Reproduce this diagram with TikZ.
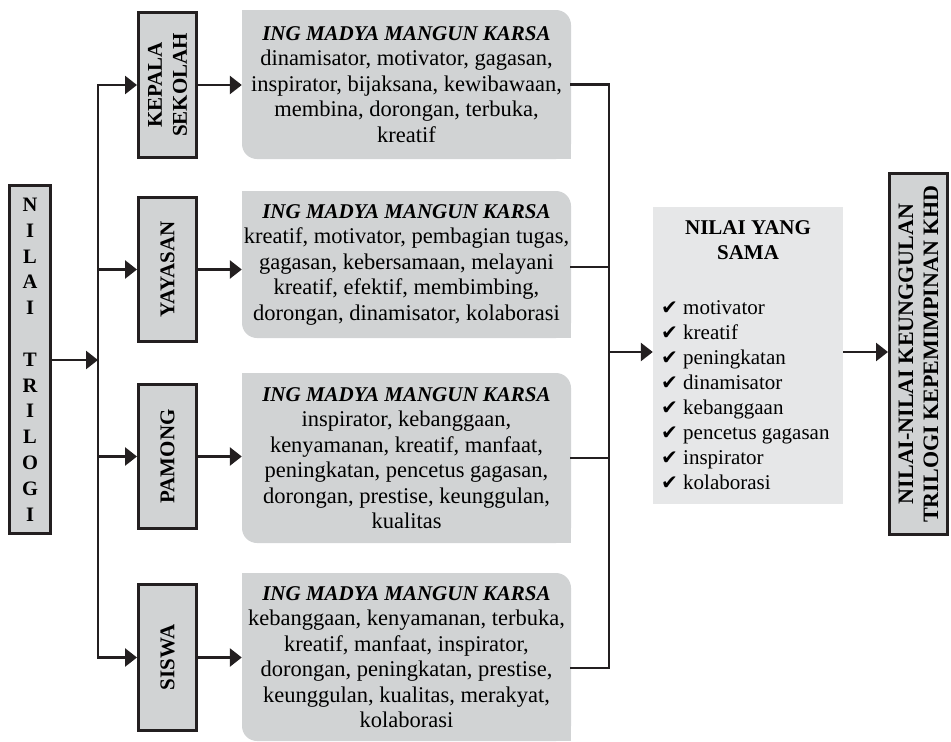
\documentclass[tikz,border=0pt]{standalone}
\usepackage{fontspec}
\setmainfont{Liberation Serif}
\newfontfamily\ticksym{DejaVu Sans}
\usetikzlibrary{arrows.meta}

\definecolor{ink}{HTML}{231F20}
\definecolor{boxgray}{HTML}{D1D3D4}
\definecolor{panelgray}{HTML}{E6E7E8}

\newcommand{\tick}{{\ticksym\fontsize{20}{25}\selectfont ✔}}

\tikzset{
  link/.style={draw=ink, line width=2.7pt, line cap=rect},
  arrowlink/.style={draw=ink, line width=2.7pt, -{Triangle[length=12pt,width=18pt]}},
  framebox/.style={draw=ink, line width=2.7pt, fill=boxgray, inner sep=0pt, minimum width=58.3pt},
  valuebox/.style={fill=boxgray, rounded corners=15pt, inner sep=0pt, minimum width=329pt,
                   align=center, font=\fontsize{22.5}{25.5}\selectfont},
  sidelabel/.style={rotate=90, align=center, font=\fontsize{21}{25}\selectfont\bfseries},
}

% heading line of each value box
\newcommand{\karsa}{\textbf{\textit{\fontsize{21}{25.5}\selectfont ING MADYA MANGUN KARSA}}}

\begin{document}
\begin{tikzpicture}[x=1pt, y=-1pt]
\useasboundingbox (0,0) rectangle (951,742);

% left column: source box and the four groups
\node[framebox, minimum width=41.3pt, minimum height=348.3pt, align=center,
      font=\fontsize{20.5}{25.8}\selectfont\bfseries] (trilogi) at (30,359.5)
  {N\\I\\L\\A\\I\\[25.8pt]T\\R\\I\\L\\O\\G\\I};

\node[framebox, minimum height=145.3pt] (kepala)  at (167.5,85) {};
\node[framebox, minimum height=144.3pt] (yayasan) at (167.5,269.5) {};
\node[framebox, minimum height=144.3pt] (pamong)  at (167.5,456.5) {};
\node[framebox, minimum height=146.3pt] (siswa)   at (167.5,657.5) {};

\node[sidelabel] at (kepala)  {KEPALA\\SEKOLAH};
\node[sidelabel] at (yayasan) {YAYASAN};
\node[sidelabel] at (pamong)  {PAMONG};
\node[sidelabel] at (siswa)   {SISWA};

% value boxes (rounded top right and bottom left only)
\node[valuebox, minimum height=149pt] (g1) at (406.5,84.5)
  {\karsa\\dinamisator, motivator, gagasan,\\inspirator, bijaksana, kewibawaan,\\membina, dorongan, terbuka,\\kreatif};
\node[valuebox, minimum height=147pt] (g2) at (406.5,264.5)
  {\karsa\\kreatif, motivator, pembagian tugas,\\gagasan, kebersamaan, melayani\\kreatif, efektif, membimbing,\\dorongan, dinamisator, kolaborasi};
\node[valuebox, minimum height=170pt] (g3) at (406.5,458)
  {\karsa\\inspirator, kebanggaan,\\kenyamanan, kreatif, manfaat,\\peningkatan, pencetus gagasan,\\dorongan, prestise, keunggulan,\\kualitas};
\node[valuebox, minimum height=168pt] (g4) at (406.5,657)
  {\karsa\\kebanggaan, kenyamanan, terbuka,\\kreatif, manfaat, inspirator,\\dorongan, peningkatan, prestise,\\keunggulan, kualitas, merakyat,\\kolaborasi};
\foreach \g in {g1,g2,g3,g4}{
  \fill[boxgray] (\g.north west) rectangle ++(15,15);
  \fill[boxgray] (\g.south east) rectangle ++(-15,-15);
}

% shared values panel
\node[fill=panelgray, inner sep=0pt, minimum width=190pt, minimum height=297pt] (sama) at (748,355.5) {};
\node[align=center, inner sep=0pt, font=\fontsize{21}{25}\selectfont\bfseries] at (748,240.5)
  {NILAI YANG\\SAMA};
\node[anchor=west, align=left, inner sep=0pt, font=\fontsize{21}{25}\selectfont] at (661,395.5)
  {\tick\ motivator\\\tick\ kreatif\\\tick\ peningkatan\\\tick\ dinamisator\\\tick\ kebanggaan\\\tick\ pencetus gagasan\\\tick\ inspirator\\\tick\ kolaborasi};

% result box
\node[framebox, minimum width=58.3pt, minimum height=361.3pt] (hasil) at (918.5,354) {};
\node[sidelabel, font=\fontsize{22}{25}\selectfont\bfseries] at (hasil)
  {NILAI-NILAI KEUNGGULAN\\TRILOGI KEPEMIMPINAN KHD};

% left trunk and branches
\coordinate (tk) at (98,360);
\draw[link] (kepala.west -| tk) -- (siswa.west -| tk);
\draw[arrowlink] (trilogi.east |- tk) -- (tk);
\foreach \b in {kepala,yayasan,pamong,siswa}
  \draw[arrowlink] (\b.west -| tk) -- (\b.west);

% group to value box
\draw[arrowlink] (kepala.east)  -- (kepala.east -| g1.west);
\draw[arrowlink] (yayasan.east) -- (yayasan.east -| g2.west);
\draw[arrowlink] (pamong.east)  -- (pamong.east -| g3.west);
\draw[arrowlink] (siswa.east)   -- (siswa.east -| g4.west);

% right trunk collecting the value boxes
\coordinate (rt) at (609,352);
\coordinate (g4out) at ([yshift=-11pt]g4.east);
\draw[link] (g1.east -| rt) -- (g4out -| rt);
\draw[link] (g1.east) -- (g1.east -| rt);
\draw[link] ([yshift=-2.5pt]g2.east) -- ([yshift=-2.5pt]g2.east -| rt);
\draw[link] (g3.east) -- (g3.east -| rt);
\draw[link] (g4out) -- (g4out -| rt);
\draw[arrowlink] (rt) -- (rt -| sama.west);
\draw[arrowlink] (sama.east |- rt) -- (rt -| hasil.west);
\end{tikzpicture}
\end{document}
